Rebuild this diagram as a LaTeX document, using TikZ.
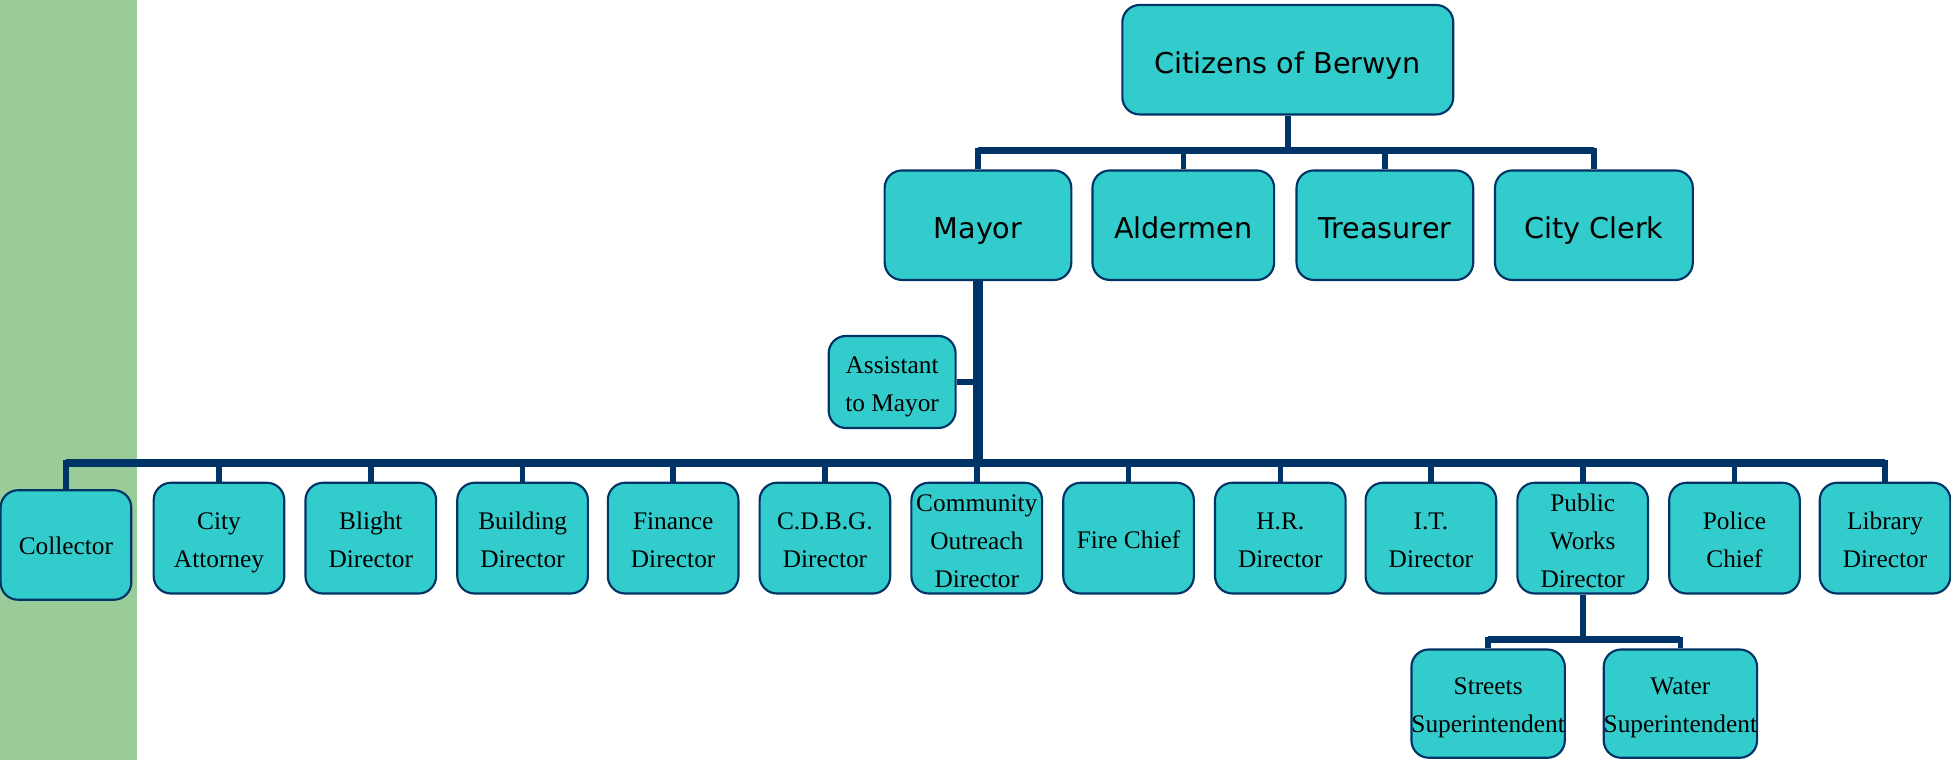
\documentclass[tikz,border=0pt]{standalone}
\usepackage{fontspec}
\setmainfont{Liberation Serif}
\newfontfamily\boxsans{DejaVu Sans}
\definecolor{boxfill}{RGB}{51,204,204}
\definecolor{navy}{RGB}{0,51,102}
\definecolor{sidegreen}{RGB}{153,204,153}
\begin{document}
\begin{tikzpicture}[x=0.9332pt,y=-0.9332pt,
  orgbox/.style={draw=navy, fill=boxfill, line width=1.6pt, rounded corners=13pt, align=center, inner sep=0pt},
  dims/.style n args={2}{minimum width=#1*0.9332pt, minimum height=#2*0.9332pt},
  serifbox/.style={orgbox, font=\fontsize{19}{28.5}\selectfont, text depth=0pt},
  oneline/.style={text height=15pt},
  twoline/.style={text height=44pt},
  threeline/.style={text height=73.8pt},
  sansbox/.style={orgbox, font=\boxsans\fontsize{21.5}{26}\selectfont, text height=20pt, text depth=0pt},
  conn/.style={draw=navy, line width=4.2pt, line join=miter},
  barline/.style={draw=navy, line width=5.5pt},
  trunk/.style={draw=navy, line width=7pt},
]
\useasboundingbox (0,0) rectangle (1568,611);
\fill[sidegreen] (0,0) rectangle (110,611);

% top levels
\node[sansbox, dims={266}{88}] (cit) at (1035,48) {Citizens of Berwyn};
\node[sansbox, dims={150}{88}] (mayor) at (786,181) {Mayor};
\node[sansbox, dims={146}{88}] (ald) at (951,181) {Aldermen};
\node[sansbox, dims={142}{88}] (treas) at (1113,181) {Treasurer};
\node[sansbox, dims={159}{88}] (clerk) at (1281,181) {City Clerk};
\node[serifbox, twoline, dims={102}{74}] (asst) at (717,307) {Assistant\\to Mayor};

% department row
\node[serifbox, oneline, dims={105}{88}] (coll) at (53,438) {Collector};
\node[serifbox, twoline, dims={105}{89}] (atty) at (176,432.5) {City\\Attorney};
\node[serifbox, twoline, dims={105}{89}] (blight) at (298,432.5) {Blight\\Director};
\node[serifbox, twoline, dims={105}{89}] (bldg) at (420,432.5) {Building\\Director};
\node[serifbox, twoline, dims={105}{89}] (fin) at (541,432.5) {Finance\\Director};
\node[serifbox, twoline, dims={105}{89}] (cdbg) at (663,432.5) {C.D.B.G.\\Director};
\node[serifbox, threeline, dims={105}{89}] (comm) at (785,432.5) {Community\\Outreach\\Director};
\node[serifbox, oneline, dims={105}{89}] (fire) at (907,432.5) {Fire Chief};
\node[serifbox, twoline, dims={105}{89}] (hr) at (1029,432.5) {H.R.\\Director};
\node[serifbox, twoline, dims={105}{89}] (it) at (1150,432.5) {I.T.\\Director};
\node[serifbox, threeline, dims={105}{89}] (pw) at (1272,432.5) {Public\\Works\\Director};
\node[serifbox, twoline, dims={105}{89}] (police) at (1394,432.5) {Police\\Chief};
\node[serifbox, twoline, dims={105}{89}] (lib) at (1515,432.5) {Library\\Director};

% superintendents
\node[serifbox, twoline, dims={122}{87}] (streets) at (1196,565.5) {Streets\\Superintendent};
\node[serifbox, twoline, dims={119}{87}] (water) at (1350.5,565.5) {Water\\Superintendent};

% connectors: top
\coordinate (tb) at (1035,121);
\draw[conn] (cit.south) -- (tb);
\draw[conn] (mayor.north) |- (tb) -| (clerk.north);
\draw[barline] (mayor.north |- tb) -- (clerk.north |- tb);
\draw[conn] (ald.north) -- (ald.north |- tb);
\draw[conn] (treas.north) -- (treas.north |- tb);

% mayor trunk
\coordinate (mb) at (786,372);
\draw[trunk] (mayor.south) -- (mb);
\draw[conn] (asst.east) -- (asst.east -| mb);

% department bar
\draw[conn] (coll.north) |- (mb) -| (lib.north);
\draw[barline] (coll.north |- mb) -- (lib.north |- mb);
\foreach \n in {atty,blight,bldg,fin,cdbg,comm,fire,hr,it,pw,police}
  \draw[conn] (\n.north) -- (\n.north |- mb);

% public works subordinates
\coordinate (pb) at (1272,514);
\draw[conn] (pw.south) -- (pb);
\draw[conn] (streets.north) |- (pb) -| (water.north);
\draw[barline] (streets.north |- pb) -- (water.north |- pb);
\end{tikzpicture}
\end{document}
